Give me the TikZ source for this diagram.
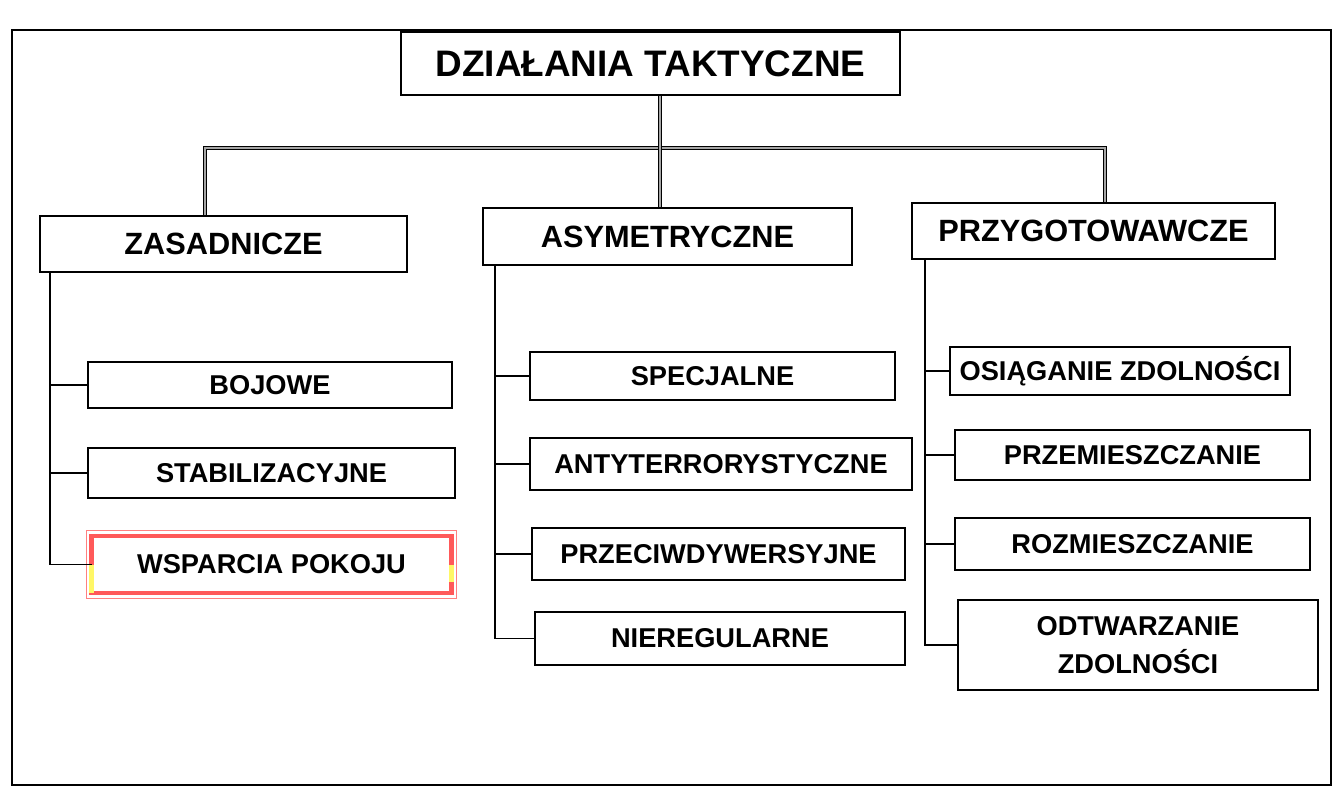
\documentclass[tikz,border=0pt]{standalone}
\usepackage{fontspec}
\setmainfont{Liberation Sans}
\usetikzlibrary{positioning}

\begin{document}
\begin{tikzpicture}[
  x=0.02cm, y=-0.02cm,
  box/.style={draw, line width=1pt, fill=white, inner sep=2pt, align=center, font=\fontsize{15.5}{22}\selectfont\bfseries},
  head/.style={box, font=\fontsize{17.5}{21}\selectfont\bfseries},
  top/.style={box, font=\fontsize{21}{25}\selectfont\bfseries},
  bus/.style={draw=black, line width=0.9pt, double=black!35, double distance=0.8pt},
  branch/.style={draw, line width=0.7pt},
]
\useasboundingbox (0,0) rectangle (1333,796);

% Frame
\draw[line width=1.2pt] (12,30) rectangle (1331,785);

% Top level
\node[top, minimum width=9.98cm, minimum height=1.26cm] (dzial) at (650.5,63.5) {DZIAŁANIA TAKTYCZNE};

% Second level
\node[head, minimum width=7.34cm, minimum height=1.12cm] (zas) at (223.5,244) {ZASADNICZE};
\node[head, minimum width=7.38cm, minimum height=1.14cm] (asy) at (667.5,236.5) {ASYMETRYCZNE};
\node[head, minimum width=7.26cm, minimum height=1.12cm] (prz) at (1093.5,231) {PRZYGOTOWAWCZE};

% Zasadnicze
\node[box, minimum width=7.28cm, minimum height=0.92cm] (boj) at (270,385) {BOJOWE};
\node[box, minimum width=7.34cm, minimum height=1.0cm] (sta) at (271.5,473) {STABILIZACYJNE};
\node[box, draw=red!65, line width=2.5pt, outer sep=0pt, minimum width=7.2cm, minimum height=1.14cm] (wsp) at (271.5,564.5) {WSPARCIA POKOJU};
\draw[yellow!60, line width=2.5pt] (wsp.west) -- (wsp.south west) (wsp.east) -- ([yshift=6pt]wsp.south east);
\draw[red!50, line width=0.6pt] ([shift={(-3pt,3pt)}]wsp.north west) rectangle ([shift={(3pt,-3pt)}]wsp.south east);

% Asymetryczne
\node[box, minimum width=7.3cm, minimum height=0.96cm] (spe) at (712.5,376) {SPECJALNE};
\node[box, minimum width=7.64cm, minimum height=1.04cm] (ant) at (721,464) {ANTYTERRORYSTYCZNE};
\node[box, minimum width=7.46cm, minimum height=1.04cm] (pcw) at (718.5,554) {PRZECIWDYWERSYJNE};
\node[box, minimum width=7.4cm, minimum height=1.06cm] (nie) at (720,638.5) {NIEREGULARNE};

% Przygotowawcze
\node[box, minimum width=6.8cm, minimum height=0.96cm] (osi) at (1120,371) {OSIĄGANIE ZDOLNOŚCI};
\node[box, minimum width=7.1cm, minimum height=1.0cm] (prm) at (1132.5,455) {PRZEMIESZCZANIE};
\node[box, minimum width=7.1cm, minimum height=1.04cm] (roz) at (1132.5,544) {ROZMIESZCZANIE};
\node[box, minimum width=7.2cm, minimum height=1.8cm] (odt) at (1138,645) {ODTWARZANIE\\ZDOLNOŚCI};

% Double connectors from the top
\coordinate (busL) at (205,148);
\coordinate (busR) at (1105,148);
\draw[bus] (zas.north -| busL) -- (busL) -- (busR) -- (prz.north -| busR);
\draw[bus] (dzial.south -| 660,0) -- (asy.north -| 660,0);

% Spines and branches
\coordinate (spZ) at (50,272);
\coordinate (spA) at (495,265);
\coordinate (spP) at (925,259);
\draw[branch] (spZ) |- (wsp.west);
\draw[branch] (spZ |- boj.west) -- (boj.west);
\draw[branch] (spZ |- sta.west) -- (sta.west);
\draw[branch] (spA) |- (nie.west);
\foreach \n in {spe,ant,pcw}
  \draw[branch] (spA |- \n.west) -- (\n.west);
\draw[branch] (spP) |- (odt.west);
\foreach \n in {osi,prm,roz}
  \draw[branch] (spP |- \n.west) -- (\n.west);

\end{tikzpicture}
\end{document}
